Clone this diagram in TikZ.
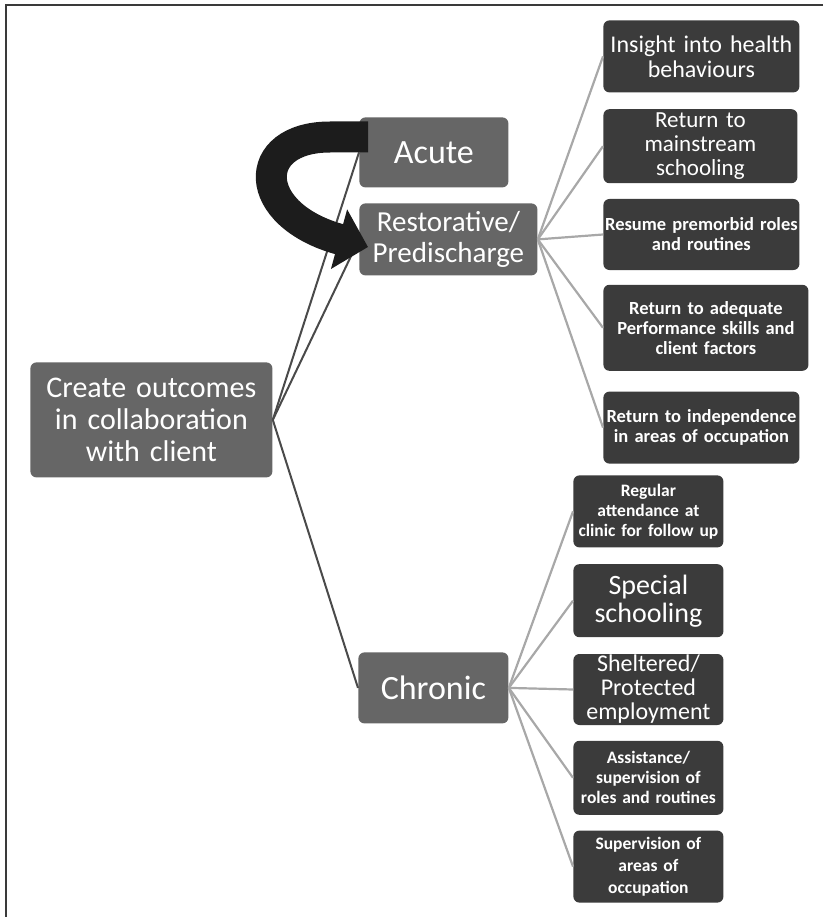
\documentclass[tikz,border=0pt]{standalone}
\usepackage{fontspec}
\setmainfont{Carlito}
\usepackage{tikz}
\usetikzlibrary{positioning, arrows.meta}

\definecolor{midgray}{HTML}{666666}
\definecolor{darkbox}{HTML}{3B3B3B}
\definecolor{linkdark}{HTML}{4A4A4A}
\definecolor{linklight}{HTML}{A8A8A8}
\definecolor{arrowblack}{HTML}{1C1C1C}
\definecolor{framegray}{HTML}{3A3A3A}

\begin{document}
\begin{tikzpicture}[x=1pt,y=-1pt,-,node distance=15pt,
                    thick,main node/.style={rectangle,rounded corners=6pt,fill=midgray,text=white,inner sep=0pt,align=center,anchor=north west},
                    leaf node/.style={main node,fill=darkbox},
                    box size/.style 2 args={text width=#1,minimum height=#2}]

  \useasboundingbox (0,0) rectangle (823,917);
  \draw[line width=2pt,framegray] (823,5) -- (6,5) -- (6,917);

  \node[main node,box size={242pt}{115pt},font=\fontsize{30}{32}\selectfont] (1) at (30,362) {Create outcomes\\in collaboration\\with client};
  \node[main node,box size={149pt}{70pt},font=\fontsize{34}{36}\selectfont] (2) at (359,117) {Acute};
  \node[main node,box size={178pt}{72pt},font=\fontsize{29}{31}\selectfont] (3) at (359,203) {Restorative/\\Predischarge};
  \node[main node,box size={150pt}{71pt},font=\fontsize{34}{36}\selectfont] (4) at (358,652) {Chronic};

  % restorative goals
  \node[leaf node,box size={196pt}{72pt},font=\fontsize{24}{25}\selectfont] (5) at (603,20) {Insight into health\\behaviours};
  \node[leaf node,box size={194pt}{74pt},font=\fontsize{23}{24}\selectfont] (6) [below right=16pt and 0pt of 5.south west] {Return to\\mainstream\\schooling};
  \node[leaf node,box size={196pt}{71pt},font=\fontsize{18.5}{20}\selectfont\bfseries] (7) [below right=15pt and 0pt of 6.south west] {Resume premorbid roles\\and routines};
  \node[leaf node,box size={205pt}{86pt},font=\fontsize{18.5}{20}\selectfont\bfseries] (8) [below right=14pt and 0pt of 7.south west] {Return to adequate\\Performance skills and\\client factors};
  \node[leaf node,box size={196pt}{72pt},font=\fontsize{18.5}{20}\selectfont\bfseries] (9) [below right=20pt and 0pt of 8.south west] {Return to independence\\in areas of occupation};

  % chronic goals
  \node[leaf node,box size={150pt}{72pt},font=\fontsize{17.5}{20}\selectfont\bfseries] (10) at (573,475) {Regular\\attendance at\\clinic for follow up};
  \node[leaf node,box size={150pt}{73pt},font=\fontsize{28}{28}\selectfont] (11) [below right=16pt and 0pt of 10.south west] {Special\\schooling};
  \node[leaf node,box size={150pt}{71pt},font=\fontsize{24}{24}\selectfont] (12) [below right=16pt and 0pt of 11.south west] {Sheltered/\\Protected\\employment};
  \node[leaf node,box size={150pt}{74pt},font=\fontsize{17.5}{20}\selectfont\bfseries] (13) [below right=15pt and 0pt of 12.south west] {Assistance/\\supervision of\\roles and routines};
  \node[leaf node,box size={150pt}{72pt},font=\fontsize{17.5}{22}\selectfont\bfseries] (14) [below right=15pt and 0pt of 13.south west] {Supervision of\\areas of\\occupation};

  \path[draw=linkdark,line width=2pt]
    (1.east) edge (2.west)
             edge (3.west)
             edge (4.west);

  \path[draw=linklight,line width=2.2pt]
    (3.east) edge (5.west)
             edge (6.west)
             edge (7.west)
             edge (8.west)
             edge (9.west)
    (4.east) edge (10.west)
             edge (11.west)
             edge (12.west)
             edge (13.west)
             edge (14.west);

  \draw[arrowblack,line width=31pt,-{Triangle[length=30pt,width=60pt]}]
    (368,137) -- (330,137) .. controls (250,137) and (250,215) .. (368,247);

\end{tikzpicture}
\end{document}
